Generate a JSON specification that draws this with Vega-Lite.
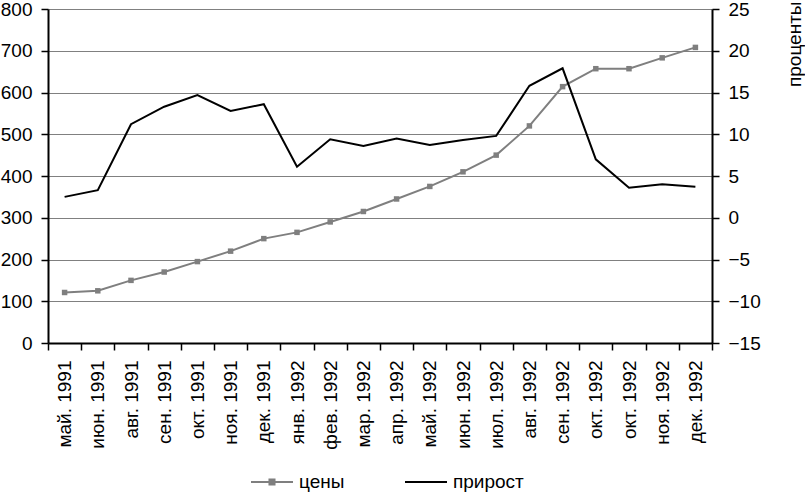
{
  "$schema": "https://vega.github.io/schema/vega-lite/v6.json",
  "autosize": "none",
  "width": 664,
  "height": 334,
  "padding": {"left": 48, "top": 9, "right": 93, "bottom": 150},
  "background": "white",
  "config": {
    "font": "Liberation Sans",
    "view": {"stroke": null},
    "axis": {"labelFont": "Liberation Sans", "labelFontSize": 19, "labelColor": "black", "domainColor": "black", "domainWidth": 2, "tickColor": "black", "tickWidth": 1.5, "tickSize": 7, "labelPadding": 8, "titleFont": "Liberation Sans"},
    "legend": {"labelFont": "Liberation Sans", "labelFontSize": 19, "labelColor": "black"}
  },
  "data": {
    "values": [
      {"month": "май. 1991", "price": 121, "growth": 2.5},
      {"month": "июн. 1991", "price": 125, "growth": 3.3},
      {"month": "авг. 1991", "price": 150, "growth": 11.2},
      {"month": "сен. 1991", "price": 170, "growth": 13.3},
      {"month": "окт. 1991", "price": 195, "growth": 14.7},
      {"month": "ноя. 1991", "price": 220, "growth": 12.8},
      {"month": "дек. 1991", "price": 250, "growth": 13.6},
      {"month": "янв. 1992", "price": 265, "growth": 6.1},
      {"month": "фев. 1992", "price": 290, "growth": 9.4},
      {"month": "мар. 1992", "price": 315, "growth": 8.6},
      {"month": "апр. 1992", "price": 345, "growth": 9.5},
      {"month": "май. 1992", "price": 375, "growth": 8.7},
      {"month": "июн. 1992", "price": 410, "growth": 9.3},
      {"month": "июл. 1992", "price": 450, "growth": 9.8},
      {"month": "авг. 1992", "price": 520, "growth": 15.8},
      {"month": "сен. 1992", "price": 614, "growth": 17.9},
      {"month": "окт. 1992", "price": 657, "growth": 7.0},
      {"month": "окт. 1992 ", "price": 657, "growth": 3.6},
      {"month": "ноя. 1992", "price": 683, "growth": 4.0},
      {"month": "дек. 1992", "price": 708, "growth": 3.7}
    ]
  },
  "encoding": {
    "x": {
      "field": "month", "type": "ordinal", "sort": null, "bandPosition": 0.5,
      "scale": {"type": "band", "paddingInner": 0, "paddingOuter": 0},
      "axis": {"title": null, "labelAngle": -90, "tickBand": "extent", "labelPadding": 10, "labelExpr": "isString(datum.value) ? trim(datum.value) : ''", "grid": false}
    }
  },
  "layer": [
    {
      "mark": {"type": "line", "strokeWidth": 2, "point": {"shape": "square", "size": 30, "filled": true, "color": "#858585"}},
      "encoding": {
        "y": {"field": "price", "type": "quantitative", "scale": {"domain": [0, 800]},
          "axis": {"title": null, "values": [0,100,200,300,400,500,600,700,800], "grid": true, "gridColor": "#808080", "gridWidth": 1, "labelPadding": 9}},
        "color": {"datum": "цены", "type": "nominal",
          "scale": {"domain": ["цены", "прирост"], "range": ["#7f7f7f", "#000000"]},
          "legend": {
            "title": null, "orient": "none", "legendX": 202, "legendY": 451, "direction": "horizontal",
            "symbolType": "stroke", "symbolSize": 1764, "symbolStrokeWidth": 2, "labelOffset": 5, "columnPadding": 56,
            "encode": {"symbols": {"update": {
              "shape": {"signal": "datum.value === 'цены' ? 'M-1,0H1M-0.12,-0.12H0.12V0.12H-0.12Z' : 'stroke'"},
              "fill": {"signal": "datum.value === 'цены' ? '#858585' : 'transparent'"}
            }}}
          }}
      }
    },
    {
      "mark": {"type": "line", "strokeWidth": 2},
      "encoding": {
        "y": {"field": "growth", "type": "quantitative", "scale": {"domain": [-15, 25]},
          "axis": {"orient": "right", "title": "проценты", "values": [-15,-10,-5,0,5,10,15,20,25], "grid": false, "labelPadding": 9,
            "titleAngle": 270, "titleAlign": "right", "titleBaseline": "alphabetic", "titleX": 88, "titleY": -8, "titleFontSize": 19, "titleFontWeight": "normal", "titleColor": "black"}},
        "color": {"datum": "прирост", "type": "nominal"}
      }
    }
  ],
  "resolve": {"scale": {"y": "independent"}}
}
